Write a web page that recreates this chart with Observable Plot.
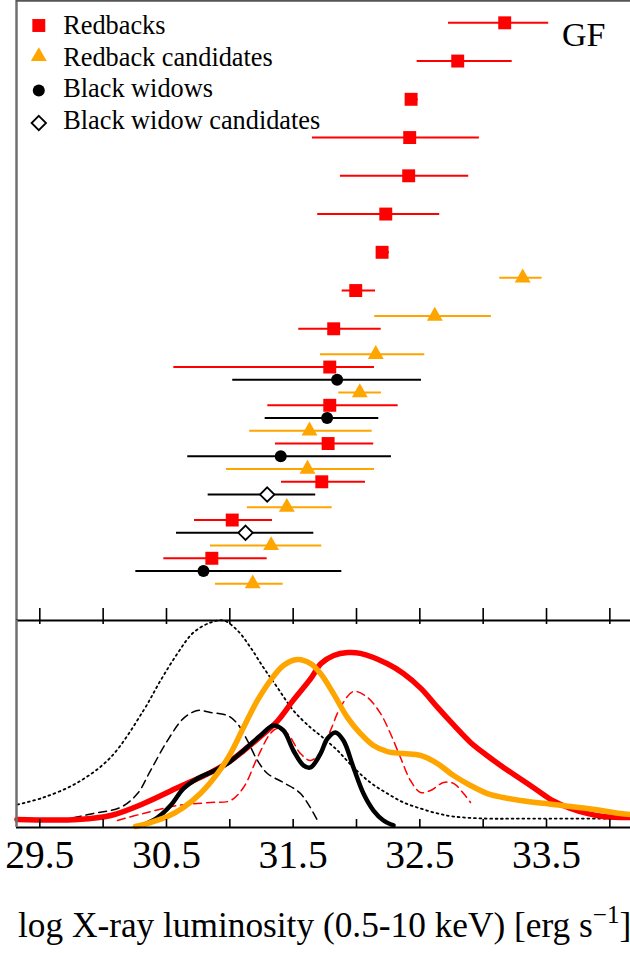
<!DOCTYPE html>
<html><head><meta charset="utf-8">
<script src="https://cdn.jsdelivr.net/npm/d3@7"></script>
<script src="https://cdn.jsdelivr.net/npm/@observablehq/plot@0.6"></script>
<style>
body{margin:0;background:#fff;}
#wrap{position:relative;width:630px;height:953px;overflow:hidden;background:#fff;}
#top,#bot{position:absolute;left:0;}
#top{top:0;} #bot{top:600px;}
</style></head><body><div id="wrap"><div id="top"></div><div id="bot"></div></div>
<script>
const FONT = "'Liberation Serif', 'Times New Roman', serif";
const xDomain = [29.316, 34.163];
const rowDomain = [-1.75, 46.88];
const tickValues = [29.5, 30, 30.5, 31, 31.5, 32, 32.5, 33, 33.5, 34];
const tickLabels = [29.5, 30.5, 31.5, 32.5, 33.5];
const legendLabels = ["Redbacks", "Redback candidates", "Black widows", "Black widow candidates"];
const panelLabel = "GF";
const axisLabel = "log X-ray luminosity (0.5-10 keV) [erg s";

// [row, logLx, lower, upper]
const redbacks = [
  [0, 33.170, 32.726, 33.517], [3, 32.799, 32.479, 33.229], [6, 32.431, 32.40, 32.487],
  [9, 32.420, 31.652, 32.970], [12, 32.412, 31.873, 32.886], [15, 32.231, 31.694, 32.657],
  [18, 32.202, 32.16, 32.260], [21, 31.994, 31.887, 32.150], [24, 31.820, 31.544, 32.195],
  [27, 31.789, 30.558, 32.142], [30, 31.789, 31.300, 32.329], [33, 31.776, 31.360, 32.136],
  [36, 31.726, 31.408, 32.071], [39, 31.019, 30.721, 31.337], [42, 30.858, 30.479, 31.295]
];
const redbackCandidates = [
  [20, 33.312, 33.131, 33.465], [23, 32.618, 32.144, 33.065], [26, 32.152, 31.715, 32.539],
  [29, 32.026, 31.860, 32.197], [32, 31.629, 31.157, 32.124], [35, 31.613, 30.974, 32.142],
  [38, 31.450, 31.139, 31.808], [41, 31.326, 30.847, 31.726], [44, 31.181, 30.887, 31.421]
];
const blackWidows = [
  [28, 31.847, 31.023, 32.513], [31, 31.768, 31.279, 32.176],
  [34, 31.402, 30.668, 32.276], [43, 30.792, 30.258, 31.884]
];
const blackWidowCandidates = [
  [37, 31.295, 30.829, 31.678], [40, 31.124, 30.579, 31.663]
];

// density curves [logLx, density]
const densRB = [[29.32,0.039],[29.80,0.039],[30.06,0.058],[30.32,0.116],[30.59,0.193],[30.85,0.266],[31.01,0.324],[31.11,0.372],[31.27,0.454],[31.38,0.517],[31.50,0.614],[31.64,0.720],[31.72,0.792],[31.82,0.831],[31.93,0.845],[32.03,0.841],[32.24,0.792],[32.37,0.744],[32.51,0.671],[32.64,0.580],[32.77,0.493],[32.90,0.411],[33.03,0.348],[33.16,0.290],[33.29,0.237],[33.43,0.179],[33.55,0.130],[33.69,0.092],[33.82,0.068],[33.95,0.053],[34.16,0.048]];
const densRBC = [[30.255,0.005],[30.374,0.024],[30.508,0.053],[30.634,0.097],[30.768,0.164],[30.903,0.261],[31.005,0.357],[31.108,0.483],[31.218,0.614],[31.320,0.710],[31.423,0.783],[31.534,0.812],[31.637,0.792],[31.716,0.744],[31.818,0.647],[31.929,0.531],[32.031,0.454],[32.134,0.396],[32.244,0.367],[32.371,0.357],[32.505,0.348],[32.639,0.309],[32.766,0.251],[32.900,0.203],[33.034,0.164],[33.160,0.145],[33.294,0.130],[33.554,0.111],[33.823,0.092],[34.083,0.068],[34.162,0.063]];
const densBW = [[30.311,0.010],[30.429,0.048],[30.532,0.106],[30.634,0.188],[30.745,0.237],[30.847,0.266],[30.981,0.309],[31.108,0.372],[31.242,0.444],[31.344,0.493],[31.423,0.469],[31.502,0.372],[31.581,0.300],[31.637,0.290],[31.716,0.357],[31.771,0.430],[31.834,0.459],[31.897,0.420],[31.976,0.290],[32.055,0.164],[32.134,0.082],[32.213,0.034],[32.292,0.010]];
const densRBdash = [[30.113,0.034],[30.318,0.068],[30.587,0.106],[30.847,0.121],[31.005,0.130],[31.108,0.193],[31.218,0.338],[31.320,0.454],[31.376,0.478],[31.455,0.454],[31.558,0.357],[31.637,0.324],[31.716,0.362],[31.795,0.469],[31.873,0.580],[31.976,0.657],[32.087,0.628],[32.189,0.551],[32.268,0.454],[32.347,0.338],[32.426,0.227],[32.505,0.169],[32.584,0.179],[32.687,0.217],[32.766,0.213],[32.845,0.164],[32.900,0.121]];
const densBWdash = [[29.663,0.034],[29.924,0.068],[30.137,0.097],[30.271,0.164],[30.374,0.275],[30.508,0.420],[30.634,0.527],[30.745,0.565],[30.847,0.556],[30.981,0.541],[31.060,0.502],[31.139,0.420],[31.218,0.324],[31.297,0.261],[31.423,0.217],[31.558,0.164],[31.692,0.034]];
const densDotted = [[29.324,0.111],[29.529,0.145],[29.798,0.217],[30.058,0.338],[30.318,0.565],[30.453,0.710],[30.587,0.841],[30.713,0.942],[30.847,0.990],[30.950,1.0],[31.060,0.952],[31.163,0.870],[31.265,0.773],[31.376,0.676],[31.502,0.565],[31.637,0.483],[31.716,0.444],[31.850,0.372],[31.976,0.290],[32.110,0.217],[32.244,0.164],[32.371,0.121],[32.505,0.092],[32.639,0.068],[32.766,0.053],[33.034,0.043],[33.294,0.043],[34.162,0.043]];

const RED = "#ff0000", ORANGE = "#ffa500", BLACK = "#000000";
const row = d => d[0], val = d => d[1], lo = d => d[2], hi = d => d[3];

function bars(data, color) {
  return Plot.ruleY(data, {y: row, x1: lo, x2: hi, stroke: color, strokeWidth: 2});
}
const legendSpecs = [
  {symbol: "square", r: 7.3, fill: RED, stroke: "none", sw: 0, mdy: 25},
  {symbol: "triangle", r: 5.9, fill: ORANGE, stroke: "none", sw: 0, mdy: 56},
  {symbol: "circle", r: 6, fill: BLACK, stroke: "none", sw: 0, mdy: 90},
  {symbol: d3.symbolDiamond2 || "diamond", r: 6.5, fill: "white", stroke: BLACK, sw: 1.8, mdy: 122.5}
];
const legendMarks = [];
legendLabels.forEach((lab, i) => {
  const s = legendSpecs[i];
  legendMarks.push(Plot.dot([lab], {frameAnchor: "top-left", dx: 22.3, dy: s.mdy, symbol: s.symbol, r: s.r, fill: s.fill, stroke: s.stroke, strokeWidth: s.sw}));
  legendMarks.push(Plot.text([lab], {text: d => d, frameAnchor: "top-left", dx: 46.7, dy: 33.3 + i * 31.7, textAnchor: "start", lineAnchor: "bottom", fontSize: 26.3, fill: BLACK}));
});

const topPlot = Plot.plot({
  width: 630, height: 620,
  marginLeft: 16, marginRight: 0, marginTop: 0, marginBottom: 0,
  x: {domain: xDomain, range: [16, 630], axis: null},
  y: {domain: rowDomain, range: [0, 620], axis: null},
  style: {fontFamily: FONT, background: "white", overflow: "visible"},
  marks: [
    Plot.ruleX([xDomain[0]], {stroke: "#707070", strokeWidth: 2.5}),
    Plot.ruleY([rowDomain[0]], {stroke: "#555555", strokeWidth: 2.5}),
    bars(redbacks, RED),
    bars(redbackCandidates, ORANGE),
    bars(blackWidows, BLACK),
    bars(blackWidowCandidates, BLACK),
    Plot.dot(redbacks, {x: val, y: row, symbol: "square", r: 7.3, fill: RED}),
    Plot.dot(redbackCandidates, {x: val, y: row, symbol: "triangle", r: 5.9, fill: ORANGE}),
    Plot.dot(blackWidows, {x: val, y: row, symbol: "circle", r: 6, fill: BLACK}),
    Plot.dot(blackWidowCandidates, {x: val, y: row, symbol: d3.symbolDiamond2 || "diamond", r: 6.5, fill: "white", stroke: BLACK, strokeWidth: 1.8}),
    Plot.text([panelLabel], {text: d => d, frameAnchor: "top-right", dx: -25, dy: 45, textAnchor: "end", lineAnchor: "bottom", fontSize: 34, fill: BLACK}),
    ...legendMarks
  ]
});
document.getElementById("top").appendChild(topPlot);

const X = d => d[0], Y = d => d[1];
const botPlot = Plot.plot({
  width: 630, height: 353,
  marginLeft: 16, marginRight: 0, marginTop: 20, marginBottom: 126,
  x: {domain: xDomain, range: [16, 630]},
  y: {domain: [0, 1], axis: null},
  style: {fontFamily: FONT, background: "transparent", overflow: "visible"},
  marks: [
    Plot.line(densDotted, {x: X, y: Y, stroke: BLACK, strokeWidth: 1.8, strokeDasharray: "1.8,3.6", curve: "catmull-rom"}),
    Plot.line(densBWdash, {x: X, y: Y, stroke: BLACK, strokeWidth: 1.5, strokeDasharray: "8,5", curve: "catmull-rom"}),
    Plot.line(densRBdash, {x: X, y: Y, stroke: RED, strokeWidth: 1.5, strokeDasharray: "8,5", curve: "catmull-rom"}),
    Plot.line(densRB, {x: X, y: Y, stroke: RED, strokeWidth: 5.5, curve: "catmull-rom"}),
    Plot.line(densBW, {x: X, y: Y, stroke: BLACK, strokeWidth: 4.5, curve: "catmull-rom"}),
    Plot.line(densRBC, {x: X, y: Y, stroke: ORANGE, strokeWidth: 5.5, curve: "catmull-rom"}),
    Plot.ruleY([0, 1], {stroke: BLACK, strokeWidth: 2}),
    Plot.ruleX([xDomain[0]], {stroke: "#707070", strokeWidth: 2.5}),
    Plot.tickX(tickValues, {x: d => d, insetTop: -12, insetBottom: 203, stroke: BLACK, strokeWidth: 1.6}),
    Plot.tickX(tickValues, {x: d => d, insetTop: 199, stroke: BLACK, strokeWidth: 1.6}),
    Plot.axisX(tickLabels, {anchor: "bottom", tickSize: 0, tickPadding: 12, fontSize: 39.5, tickFormat: d => d.toFixed(1), label: null, fill: BLACK})
  ]
});
document.getElementById("bot").appendChild(botPlot);

const lab = d3.select(botPlot).append("text")
  .attr("x", 18).attr("y", 337)
  .attr("text-anchor", "start")
  .attr("font-family", FONT).attr("font-size", 35.3).attr("fill", BLACK);
lab.append("tspan").text(axisLabel);
lab.append("tspan").attr("dy", -14).attr("font-size", 25).text("\u22121");
lab.append("tspan").attr("dy", 14).text("]");
</script></body></html>
